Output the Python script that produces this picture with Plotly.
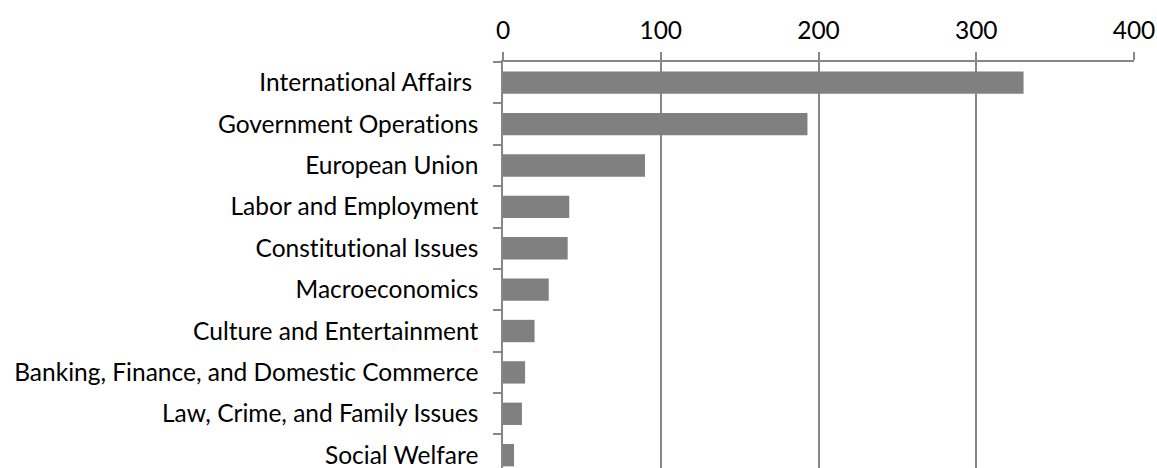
import plotly.graph_objects as go

categories = [
    "International Affairs ",
    "Government Operations",
    "European Union",
    "Labor and Employment",
    "Constitutional Issues",
    "Macroeconomics",
    "Culture and Entertainment",
    "Banking, Finance, and Domestic Commerce",
    "Law, Crime, and Family Issues",
    "Social Welfare",
]
values = [330, 193, 90, 42, 41, 29, 20, 14, 12, 7]
x_ticks = [0, 100, 200, 300, 400]

GRID = "#878787"
FONT = dict(family="Lato, Carlito, Calibri, sans-serif", size=24.5, color="#000000")

fig = go.Figure(
    go.Bar(
        x=values,
        y=categories,
        orientation="h",
        marker=dict(color="#808080", line=dict(width=0)),
    )
)

fig.update_layout(
    width=1157,
    height=468,
    margin=dict(l=503, r=23, t=62, b=0, autoexpand=False),
    paper_bgcolor="white",
    plot_bgcolor="white",
    font=FONT,
    bargap=0.46,
    showlegend=False,
)

fig.update_xaxes(
    side="top",
    range=[0, 400],
    tickvals=x_ticks,
    ticks="outside",
    ticklen=8,
    tickwidth=1.5,
    tickcolor=GRID,
    showline=True,
    linecolor=GRID,
    linewidth=1.5,
    showgrid=True,
    gridcolor=GRID,
    gridwidth=1.5,
    zeroline=False,
    automargin=False,
    ticklabelstandoff=3,
    tickfont=FONT,
)

fig.update_yaxes(
    type="category",
    range=[9.31, -0.5],
    ticks="outside",
    tickson="boundaries",
    ticklen=8,
    tickwidth=1.5,
    tickcolor=GRID,
    showline=True,
    linecolor=GRID,
    linewidth=1.5,
    showgrid=False,
    zeroline=False,
    automargin=False,
    ticklabelstandoff=18,
    tickfont=FONT,
)

fig.write_html(
    "out.html",
    config={"displayModeBar": False},
    post_script="var s=document.createElement('style');"
    "s.textContent='html,body{margin:0;padding:0;overflow:hidden;}"
    "svg text{font-variant-ligatures:none;font-feature-settings:\"liga\" 0;}';"
    "document.head.appendChild(s);",
)
